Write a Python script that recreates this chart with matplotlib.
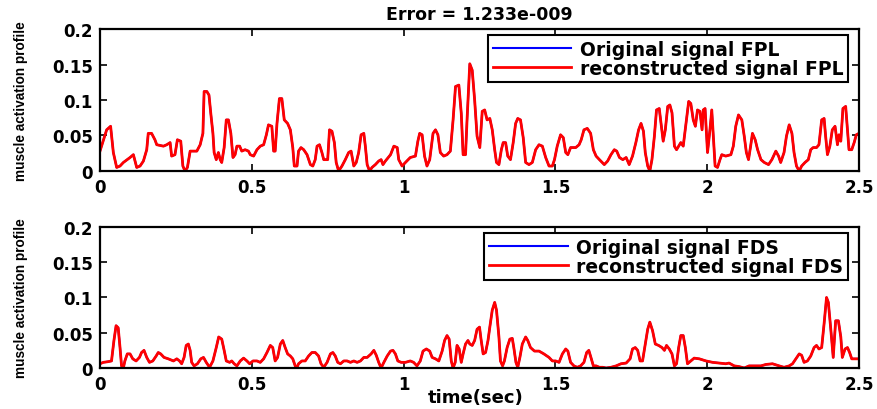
import matplotlib
matplotlib.use("Agg")
import matplotlib.pyplot as plt
import numpy as np

title_text = "Error = 1.233e-009"
ylabel_text = "muscle activation profile"
xlabel_text = "time(sec)"
legend_fpl = ["Original signal FPL", "reconstructed signal FPL"]
legend_fds = ["Original signal FDS", "reconstructed signal FDS"]
xticks = [0, 0.5, 1, 1.5, 2, 2.5]
xtick_labels = ["0", "0.5", "1", "1.5", "2", "2.5"]
yticks = [0, 0.05, 0.1, 0.15, 0.2]
ytick_labels = ["0", "0.05", "0.1", "0.15", "0.2"]

fpl_t = [0.000, 0.022, 0.035, 0.044, 0.055, 0.066, 0.077, 0.099, 0.110, 0.121, 0.132, 0.143,
         0.154, 0.159, 0.170, 0.181, 0.187, 0.209, 0.220, 0.231, 0.236, 0.247, 0.255, 0.266,
         0.273, 0.280, 0.288, 0.297, 0.319, 0.330, 0.339, 0.343, 0.352, 0.359, 0.365, 0.372,
         0.376, 0.383, 0.390, 0.396, 0.401, 0.409, 0.416, 0.423, 0.431, 0.438, 0.445, 0.451,
         0.460, 0.467, 0.478, 0.489, 0.495, 0.506, 0.517, 0.528, 0.539, 0.548, 0.555, 0.566,
         0.572, 0.577, 0.583, 0.591, 0.599, 0.607, 0.618, 0.627, 0.635, 0.640, 0.649, 0.654,
         0.662, 0.671, 0.682, 0.693, 0.701, 0.709, 0.715, 0.723, 0.731, 0.737, 0.750, 0.756,
         0.764, 0.772, 0.778, 0.786, 0.797, 0.808, 0.819,
         0.827, 0.836, 0.844, 0.852, 0.860, 0.869, 0.874, 0.880, 0.888, 0.896, 0.907, 0.918,
         0.926, 0.932, 0.940, 0.957, 0.968, 0.979, 0.984, 0.995, 1.006, 1.022, 1.039, 1.047,
         1.053, 1.061, 1.069, 1.077, 1.086, 1.097, 1.105, 1.113, 1.121, 1.132, 1.143, 1.154,
         1.163, 1.171, 1.182, 1.190, 1.196, 1.204, 1.209, 1.218, 1.226, 1.234, 1.242, 1.251,
         1.259, 1.267, 1.275, 1.284, 1.292, 1.300, 1.306, 1.314, 1.322, 1.328, 1.336, 1.343,
         1.352, 1.361, 1.369, 1.376, 1.385, 1.394, 1.402, 1.413, 1.424, 1.435, 1.446, 1.457,
         1.468, 1.479, 1.490, 1.497, 1.506, 1.517, 1.526, 1.534, 1.541, 1.550, 1.567, 1.578,
         1.585, 1.594, 1.605, 1.616,
         1.625, 1.634, 1.645, 1.661, 1.672, 1.683, 1.694, 1.702, 1.711, 1.722, 1.733, 1.743,
         1.754, 1.765, 1.774, 1.782, 1.790, 1.796, 1.804, 1.811, 1.818, 1.826, 1.833, 1.842,
         1.849, 1.855, 1.862, 1.870, 1.877, 1.884, 1.892, 1.899, 1.906, 1.913, 1.921, 1.930,
         1.939, 1.946, 1.954, 1.961, 1.968, 1.976, 1.983, 1.987, 1.993, 2.001, 2.009, 2.015,
         2.020, 2.026, 2.034, 2.042, 2.048, 2.061, 2.078, 2.086, 2.094, 2.103, 2.114, 2.122,
         2.129, 2.136, 2.143, 2.149, 2.158, 2.166, 2.177, 2.188, 2.202, 2.213, 2.226, 2.235,
         2.242, 2.253, 2.261, 2.270, 2.279, 2.286, 2.294, 2.303, 2.311, 2.322, 2.333, 2.341,
         2.349, 2.360, 2.368, 2.377, 2.385, 2.390, 2.396, 2.404, 2.412, 2.421, 2.429, 2.434,
         2.440, 2.447, 2.456, 2.463, 2.467, 2.476, 2.484, 2.491, 2.500]
fpl_v = [0.028, 0.058, 0.063, 0.026, 0.005, 0.007, 0.012, 0.019, 0.023, 0.005, 0.007, 0.014,
         0.030, 0.053, 0.053, 0.044, 0.037, 0.035, 0.037, 0.040, 0.021, 0.023, 0.044, 0.042,
         0.007, 0.000, 0.005, 0.028, 0.028, 0.037, 0.053, 0.112, 0.112, 0.107, 0.081, 0.053,
         0.026, 0.016, 0.026, 0.016, 0.012, 0.033, 0.072, 0.072, 0.053, 0.019, 0.023, 0.035,
         0.035, 0.028, 0.030, 0.028, 0.023, 0.021, 0.030, 0.035, 0.037, 0.051, 0.065, 0.063,
         0.028, 0.028, 0.067, 0.102, 0.102, 0.072, 0.067, 0.058, 0.033, 0.007, 0.007, 0.028,
         0.033, 0.030, 0.023, 0.009, 0.007, 0.016, 0.035, 0.037, 0.026, 0.016, 0.016, 0.058,
         0.056, 0.040, 0.012, 0.000, 0.007, 0.016, 0.026,
         0.028, 0.007, 0.012, 0.026, 0.051, 0.053, 0.035, 0.009, 0.000, 0.005, 0.009, 0.014,
         0.016, 0.009, 0.014, 0.023, 0.035, 0.033, 0.016, 0.007, 0.012, 0.019, 0.021, 0.042,
         0.053, 0.051, 0.021, 0.007, 0.016, 0.053, 0.058, 0.051, 0.026, 0.021, 0.023, 0.028,
         0.072, 0.119, 0.121, 0.081, 0.023, 0.023, 0.072, 0.151, 0.142, 0.100, 0.049, 0.033,
         0.084, 0.086, 0.072, 0.074, 0.058, 0.030, 0.012, 0.009, 0.030, 0.040, 0.040, 0.021,
         0.016, 0.040, 0.067, 0.074, 0.072, 0.047, 0.012, 0.009, 0.012, 0.030, 0.037, 0.035,
         0.019, 0.007, 0.007, 0.016, 0.035, 0.051, 0.047, 0.026, 0.023, 0.033, 0.033, 0.037,
         0.044, 0.058, 0.060, 0.053,
         0.030, 0.021, 0.016, 0.009, 0.014, 0.023, 0.030, 0.028, 0.019, 0.016, 0.019, 0.009,
         0.021, 0.040, 0.058, 0.067, 0.056, 0.026, 0.007, 0.000, 0.016, 0.049, 0.086, 0.088,
         0.063, 0.042, 0.058, 0.091, 0.093, 0.082, 0.035, 0.030, 0.035, 0.040, 0.035, 0.067,
         0.098, 0.095, 0.072, 0.063, 0.086, 0.084, 0.058, 0.086, 0.088, 0.026, 0.058, 0.086,
         0.049, 0.007, 0.005, 0.016, 0.023, 0.021, 0.023, 0.035, 0.063, 0.079, 0.072, 0.049,
         0.026, 0.016, 0.035, 0.053, 0.044, 0.030, 0.016, 0.012, 0.009, 0.016, 0.028, 0.021,
         0.012, 0.026, 0.049, 0.065, 0.053, 0.026, 0.007, 0.000, 0.007, 0.012, 0.016, 0.030,
         0.033, 0.033, 0.037, 0.072, 0.074, 0.049, 0.023, 0.035, 0.058, 0.063, 0.037, 0.051,
         0.042, 0.088, 0.091, 0.053, 0.030, 0.030, 0.040, 0.051, 0.053]

fds_t = [0.000, 0.011, 0.027, 0.038, 0.046, 0.053, 0.060, 0.066, 0.071, 0.077, 0.082, 0.090,
         0.099, 0.108, 0.119, 0.130, 0.137, 0.145, 0.154, 0.163, 0.174, 0.185, 0.192, 0.200,
         0.211, 0.225, 0.242, 0.253, 0.262, 0.269, 0.277, 0.284, 0.291, 0.297, 0.302, 0.310,
         0.321, 0.332, 0.341, 0.350, 0.361, 0.372, 0.383, 0.391, 0.401, 0.409, 0.416, 0.427,
         0.434, 0.442, 0.451, 0.462, 0.473, 0.484, 0.493, 0.504, 0.517, 0.528, 0.539, 0.550,
         0.561, 0.569, 0.577, 0.585, 0.594, 0.602, 0.610, 0.618, 0.627, 0.635, 0.643, 0.649,
         0.654, 0.665, 0.676, 0.687, 0.698, 0.709, 0.720, 0.728, 0.737, 0.748, 0.759, 0.767,
         0.775, 0.783, 0.792, 0.803, 0.814, 0.825,
         0.836, 0.847, 0.858, 0.869, 0.880, 0.893, 0.902, 0.910, 0.918, 0.926, 0.935, 0.946,
         0.957, 0.965, 0.973, 0.981, 0.992, 1.006, 1.022, 1.033, 1.044, 1.055, 1.064, 1.075,
         1.086, 1.094, 1.105, 1.116, 1.127, 1.135, 1.143, 1.150, 1.157, 1.163, 1.170, 1.176,
         1.183, 1.190, 1.196, 1.204, 1.212, 1.218, 1.226, 1.234, 1.242, 1.250, 1.255, 1.262,
         1.270, 1.278, 1.284, 1.292, 1.300, 1.306, 1.314, 1.319, 1.326, 1.332, 1.341, 1.350,
         1.358, 1.363, 1.370, 1.376, 1.383, 1.391, 1.402, 1.409, 1.418, 1.431, 1.446, 1.462,
         1.479, 1.490, 1.501, 1.512, 1.523, 1.534, 1.541, 1.550, 1.561, 1.572, 1.583, 1.594,
         1.603,
         1.610, 1.617, 1.625, 1.634, 1.645, 1.656, 1.667, 1.683, 1.700, 1.716, 1.733, 1.746,
         1.754, 1.763, 1.771, 1.779, 1.787, 1.796, 1.804, 1.811, 1.820, 1.829, 1.840, 1.851,
         1.859, 1.866, 1.875, 1.884, 1.892, 1.899, 1.906, 1.913, 1.921, 1.928, 1.935, 1.946,
         1.957, 1.974, 1.996, 2.018, 2.040, 2.061, 2.072, 2.089, 2.105, 2.122, 2.138, 2.155,
         2.177, 2.193, 2.215, 2.237, 2.253, 2.270, 2.281, 2.292, 2.303, 2.311, 2.319, 2.330,
         2.341, 2.352, 2.360, 2.368, 2.377, 2.385, 2.393, 2.399, 2.407, 2.415, 2.423, 2.432,
         2.440, 2.445, 2.454, 2.462, 2.469, 2.476, 2.487, 2.500]
fds_v = [0.006, 0.008, 0.009, 0.010, 0.039, 0.060, 0.057, 0.029, 0.003, 0.000, 0.010, 0.020,
         0.020, 0.013, 0.010, 0.015, 0.022, 0.025, 0.015, 0.008, 0.010, 0.017, 0.022, 0.020,
         0.015, 0.013, 0.010, 0.013, 0.010, 0.006, 0.015, 0.032, 0.034, 0.025, 0.008, 0.003,
         0.006, 0.013, 0.015, 0.008, 0.001, 0.010, 0.029, 0.044, 0.041, 0.025, 0.010, 0.008,
         0.010, 0.006, 0.003, 0.010, 0.014, 0.010, 0.006, 0.010, 0.010, 0.008, 0.013, 0.022,
         0.032, 0.029, 0.010, 0.015, 0.034, 0.039, 0.029, 0.020, 0.017, 0.013, 0.003, 0.001,
         0.006, 0.010, 0.010, 0.017, 0.022, 0.022, 0.017, 0.006, 0.001, 0.008, 0.020, 0.022,
         0.017, 0.008, 0.006, 0.010, 0.010, 0.008,
         0.010, 0.008, 0.010, 0.015, 0.015, 0.020, 0.025, 0.018, 0.008, 0.000, 0.008, 0.017,
         0.024, 0.025, 0.020, 0.010, 0.008, 0.008, 0.010, 0.008, 0.003, 0.010, 0.024, 0.027,
         0.024, 0.015, 0.013, 0.010, 0.024, 0.039, 0.046, 0.041, 0.010, 0.000, 0.008, 0.032,
         0.027, 0.008, 0.020, 0.034, 0.039, 0.034, 0.032, 0.039, 0.055, 0.058, 0.041, 0.020,
         0.022, 0.039, 0.058, 0.082, 0.093, 0.082, 0.044, 0.010, 0.003, 0.010, 0.029, 0.041,
         0.042, 0.029, 0.008, 0.001, 0.015, 0.034, 0.044, 0.039, 0.029, 0.024, 0.024, 0.020,
         0.015, 0.010, 0.010, 0.008, 0.020, 0.027, 0.024, 0.008, 0.003, 0.001, 0.003, 0.008,
         0.022,
         0.025, 0.015, 0.003, 0.003, 0.001, 0.001, 0.000, 0.001, 0.003, 0.006, 0.007, 0.013,
         0.027, 0.029, 0.025, 0.010, 0.010, 0.034, 0.055, 0.065, 0.053, 0.034, 0.032, 0.029,
         0.025, 0.032, 0.027, 0.020, 0.003, 0.006, 0.029, 0.046, 0.046, 0.029, 0.006, 0.010,
         0.014, 0.013, 0.010, 0.008, 0.007, 0.006, 0.007, 0.003, 0.002, 0.000, 0.003, 0.003,
         0.003, 0.005, 0.006, 0.003, 0.001, 0.003, 0.006, 0.013, 0.020, 0.018, 0.008, 0.010,
         0.017, 0.029, 0.032, 0.027, 0.029, 0.063, 0.100, 0.093, 0.055, 0.015, 0.067, 0.067,
         0.044, 0.015, 0.027, 0.029, 0.022, 0.013, 0.013, 0.013]

FONT = "DejaVu Sans"
fig = plt.figure(figsize=(8.77, 4.10), dpi=100)
ax1 = fig.add_axes([0.114, 0.5805, 0.8655, 0.3463])
ax2 = fig.add_axes([0.114, 0.100, 0.8655, 0.344])


def style(ax, t, v, labels):
    ax.plot(t, v, color=(0, 0, 1), lw=1.5, label=labels[0])
    ax.plot(t, v, color=(1, 0, 0), lw=2.0, label=labels[1])
    ax.set_xlim(0, 2.5)
    ax.set_ylim(0, 0.2)
    ax.set_xticks(xticks)
    ax.set_xticklabels(xtick_labels)
    ax.set_yticks(yticks)
    ax.set_yticklabels(ytick_labels)
    ax.tick_params(direction="in", top=True, right=True, length=5, width=1.2,
                   labelsize=12, pad=5)
    for lab in ax.get_xticklabels() + ax.get_yticklabels():
        lab.set_fontweight("bold")
        lab.set_family(FONT)
    for s in ax.spines.values():
        s.set_linewidth(1.6)
    ax.set_ylabel(ylabel_text, fontsize=9.8, fontweight="bold",
                  family=["Liberation Sans", "DejaVu Sans"])
    ax.yaxis.set_label_coords(-0.095, 0.5)
    leg = ax.legend(loc="upper right", bbox_to_anchor=(0.9855, 0.958), borderaxespad=0,
                    fancybox=False, framealpha=1, edgecolor="black", handlelength=4.2,
                    prop={"weight": "bold", "size": 13.5, "family": FONT},
                    borderpad=0.25, labelspacing=0.0, handletextpad=0.45)
    leg.get_frame().set_linewidth(1.5)


style(ax1, fpl_t, fpl_v, legend_fpl)
style(ax2, fds_t, fds_v, legend_fds)

ax1.set_title(title_text, fontsize=12.5, fontweight="bold", pad=7)
ax2.set_xlabel(xlabel_text, fontsize=13, fontweight="bold")
ax2.xaxis.set_label_coords(0.495, -0.145)

fig.savefig("out.png", dpi=100)
